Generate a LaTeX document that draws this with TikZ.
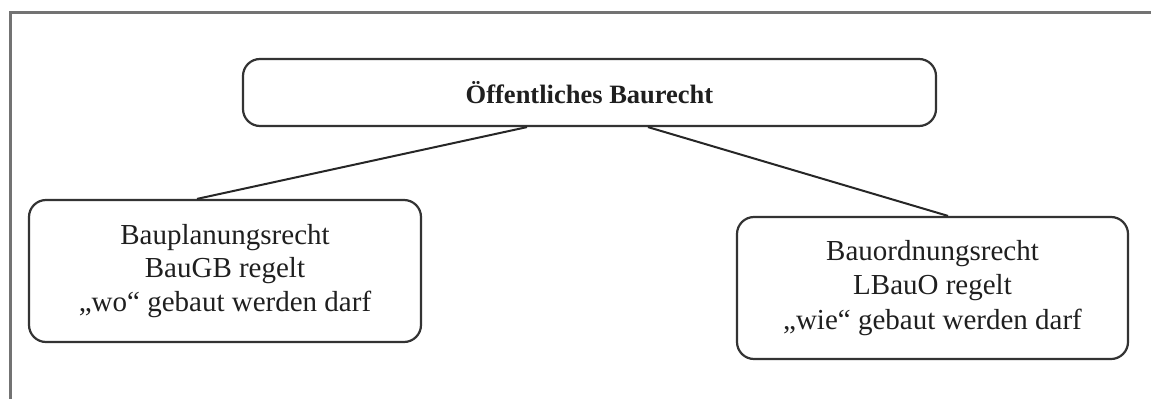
\documentclass[tikz,border=0pt]{standalone}
\usepackage{fontspec}
\setmainfont{Liberation Serif}
\usepackage{tikz}
\usetikzlibrary{calc}
\usetikzlibrary{positioning}

\tikzset{
	rahmen/.style={draw=black!55,line width=3pt},
	kasten/.style={draw=black!80,line width=2.2pt,rounded corners=17pt,inner sep=0pt,align=center,text=black!88},
	verbinder/.style={draw=black!85,line width=2pt}
}

\begin{document}
\begin{tikzpicture}[x=1pt,y=-1pt]
\useasboundingbox (0,0) rectangle (1151,399);

\draw[rahmen] (1151,12) -- (10,12) -- (10,399);

\node[kasten,minimum width=693pt,minimum height=67pt,font=\fontsize{26.5}{30}\selectfont\bfseries] (baurecht) at (589.5,92.5) {Öffentliches Baurecht};

\node[kasten,minimum width=392pt,minimum height=142pt,font=\fontsize{29}{33.5}\selectfont] (planung) at (225,271)
	{Bauplanungsrecht\\BauGB regelt\\„wo“ gebaut werden darf};
\node[kasten,minimum width=391pt,minimum height=142pt,font=\fontsize{29}{34.5}\selectfont] (ordnung) at (932.5,288)
	{Bauordnungsrecht\\LBauO regelt\\„wie“ gebaut werden darf};

% Verbindungen
\draw[verbinder] ([xshift=-62.5pt]baurecht.south) -- ([xshift=-28pt]planung.north);
\draw[verbinder] ([xshift=58.5pt]baurecht.south) -- ([xshift=15.5pt]ordnung.north);
\end{tikzpicture}
\end{document}
